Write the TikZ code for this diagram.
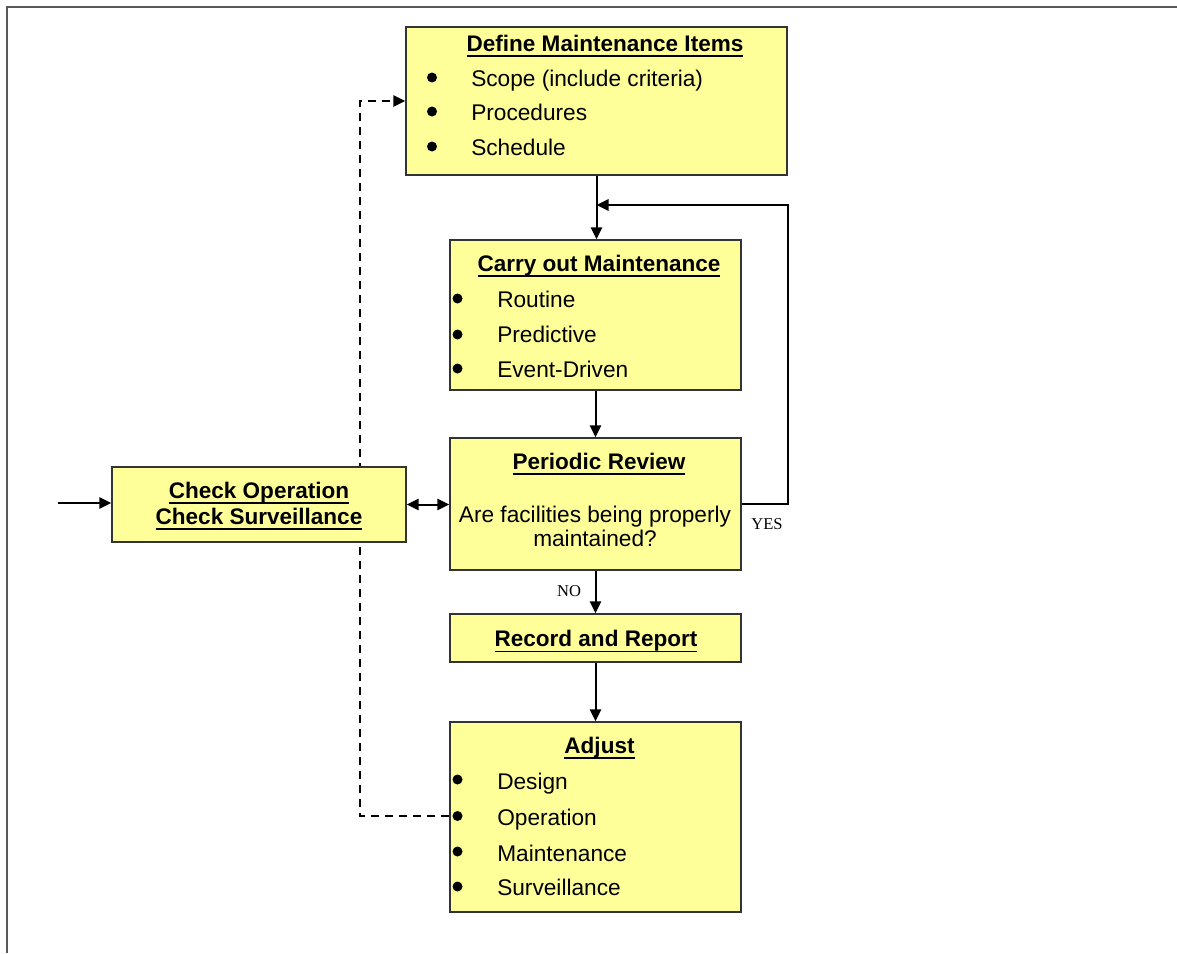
\documentclass[tikz,border=0pt]{standalone}
\usepackage{fontspec}
\setmainfont{Liberation Sans}
\newfontfamily\timesf{Liberation Serif}
\usetikzlibrary{arrows.meta,backgrounds}
\newdimen\pxu \pxu=0.75pt
\definecolor{boxfill}{HTML}{FFFF99}
\definecolor{boxline}{HTML}{333333}
\newcommand\myul[1]{\setbox0\hbox{#1}\copy0\llap{\rule[-4.2pt]{\wd0}{1.3pt}}}
\begin{document}
\begin{tikzpicture}[x=0.75pt,y=-0.75pt,
  box/.style={draw=boxline, line width=1.1pt, fill=boxfill, inner sep=0pt},
  txt/.style={font=\fontsize{17}{20}\selectfont, inner sep=0pt, anchor=base west},
  ctxt/.style={font=\fontsize{17}{20}\selectfont, inner sep=0pt, anchor=base},
  ttl/.style={font=\fontsize{16.9}{20}\selectfont\bfseries, inner sep=0pt, anchor=base},
  bul/.style={circle, fill=black, inner sep=0pt, minimum size=10*\pxu},
  lbl/.style={font=\fontsize{12.4}{14}\selectfont\timesf, inner sep=0pt, anchor=base},
  arr/.style={line width=1.5pt, -{Triangle[length=9pt,width=8.5pt]}},
  darr/.style={line width=1.5pt, {Triangle[length=9pt,width=8.5pt]}-{Triangle[length=9pt,width=8.5pt]}},
  dashline/.style={line width=1.5pt, dash pattern=on 6pt off 4.5pt, -{Triangle[length=9pt,width=8.5pt]}},
]
\useasboundingbox (0,0) rectangle (1177,953);
\draw[line width=1.6pt, black!65] (7,953) -- (7,7) -- (1177,7);

% boxes
\node[box, minimum width=381*\pxu, minimum height=148*\pxu] (define) at (596.5,101) {};
\node[box, minimum width=291*\pxu, minimum height=150*\pxu] (carry) at (595.5,315) {};
\node[box, minimum width=291*\pxu, minimum height=132*\pxu] (review) at (595.5,504) {};
\node[box, minimum width=291*\pxu, minimum height=48*\pxu] (record) at (595.5,638) {};
\node[box, minimum width=291*\pxu, minimum height=190*\pxu] (adjust) at (595.5,817) {};
\node[box, minimum width=294*\pxu, minimum height=75*\pxu] (check) at (259,504.5) {};

% Define
\node[ttl] (defT) at (605,51) {\myul{Define Maintenance Items}};
\node[bul] (defb1) at (432,77.5) {};
\node[bul] (defb2) at (432,111.5) {};
\node[bul] (defb3) at (432,146.5) {};
\node[txt] (def1) at (471,86.5) {Scope (include criteria)};
\node[txt] (def2) at (471,120) {Procedures};
\node[txt] (def3) at (471,155.5) {Schedule};

% Carry out
\node[ttl] (carT) at (599,271) {\myul{Carry out Maintenance}};
\node[bul] (carb1) at (457.5,298.5) {};
\node[bul] (carb2) at (457.5,334.5) {};
\node[bul] (carb3) at (457.5,368.5) {};
\node[txt] (car1) at (497,307.3) {Routine};
\node[txt] (car2) at (497,342.7) {Predictive};
\node[txt] (car3) at (497,377.3) {Event-Driven};

% Review
\node[ttl] (revT) at (599,469.3) {\myul{Periodic Review}};
\node[ctxt] (rev1) at (595,522.7) {Are facilities being properly};
\node[ctxt] (rev2) at (595,546.7) {maintained?};

% Record
\node[ttl] (recT) at (596,646.7) {\myul{Record and Report}};

% Adjust
\node[ttl] (adjT) at (599.5,753.3) {\myul{Adjust}};
\node[bul] (adjb1) at (457.5,779.5) {};
\node[bul] (opb) at (457.5,816) {};
\node[bul] (adjb3) at (457.5,851.5) {};
\node[bul] (adjb4) at (457.5,886.5) {};
\node[txt] (adj1) at (497,789.3) {Design};
\node[txt] (adj2) at (497,825) {Operation};
\node[txt] (adj3) at (497,861) {Maintenance};
\node[txt] (adj4) at (497,895) {Surveillance};

% Check
\node[ttl] (chk1) at (259,498.3) {\myul{Check Operation}};
\node[ttl] (chk2) at (259,524) {\myul{Check Surveillance}};

% labels
\node[lbl] (yes) at (767,529) {YES};
\node[lbl] (no) at (569,596.5) {NO};

% connectors
\coordinate (in) at (58,503);
\coordinate (loopc) at (788,205);
\coordinate (dx) at (360,101);
\draw[arr] (define.south) -- (define.south |- carry.north);
\draw[arr] (carry.south) -- (review.north);
\draw[arr] (review.south) -- (record.north);
\draw[arr] (record.south) -- (adjust.north);
\draw[arr] (review.east) -| (loopc) -- (define.south |- loopc);
\draw[arr] (in) -- (in -| check.west);
\draw[darr] (check.east) -- (review.west |- check.east);
\begin{scope}[on background layer]
\draw[dashline] (adjust.west |- opb) -| (dx) -- (define.west);
\end{scope}
\end{tikzpicture}
\end{document}
